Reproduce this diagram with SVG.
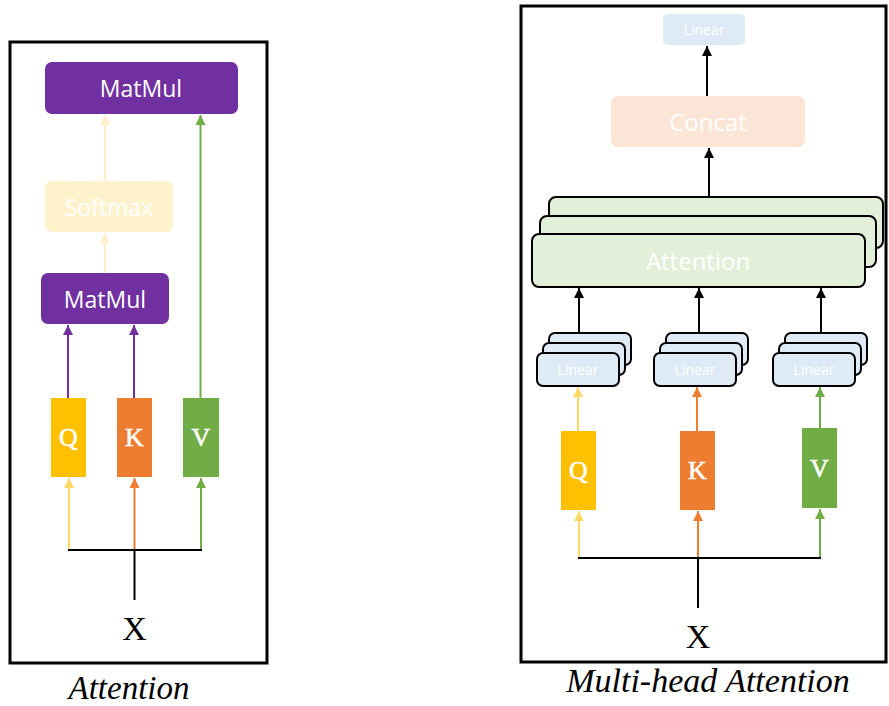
<svg xmlns="http://www.w3.org/2000/svg" width="889" height="706" viewBox="0 0 889 706">
  <defs>
    <style>
      .frame { fill: none; stroke: #000; stroke-width: 3; }
      .lbl { font-family: "Open Sans", "Noto Sans", sans-serif; fill: #fff; text-anchor: middle; }
      .ser { font-family: "Liberation Serif", "DejaVu Serif", serif; text-anchor: middle; }
      .qkv { font-family: "Liberation Serif", "DejaVu Serif", serif; text-anchor: middle; fill: #fff; stroke: #fff; stroke-width: 0.6; font-size: 26px; }
      .cap { font-family: "Liberation Serif", "DejaVu Serif", serif; font-style: italic; text-anchor: middle; fill: #000; }
      .stk { stroke: #000; stroke-width: 2; }
      .ln { fill: none; stroke-width: 2; }
    </style>
    <marker id="ah-black" viewBox="0 0 10 10" refX="10" refY="5" markerWidth="10" markerHeight="10" markerUnits="userSpaceOnUse" orient="auto">
      <path d="M0,0 L10,5 L0,10 z" fill="#000"/>
    </marker>
    <marker id="ah-purple" viewBox="0 0 10 10" refX="10" refY="5" markerWidth="10" markerHeight="10" markerUnits="userSpaceOnUse" orient="auto">
      <path d="M0,0 L10,5 L0,10 z" fill="#7030A0"/>
    </marker>
    <marker id="ah-green" viewBox="0 0 10 10" refX="10" refY="5" markerWidth="10" markerHeight="10" markerUnits="userSpaceOnUse" orient="auto">
      <path d="M0,0 L10,5 L0,10 z" fill="#70AD47"/>
    </marker>
    <marker id="ah-orange" viewBox="0 0 10 10" refX="10" refY="5" markerWidth="10" markerHeight="10" markerUnits="userSpaceOnUse" orient="auto">
      <path d="M0,0 L10,5 L0,10 z" fill="#ED7D31"/>
    </marker>
    <marker id="ah-yellow" viewBox="0 0 10 10" refX="10" refY="5" markerWidth="10" markerHeight="10" markerUnits="userSpaceOnUse" orient="auto">
      <path d="M0,0 L10,5 L0,10 z" fill="#FFD966"/>
    </marker>
    <marker id="ah-cream" viewBox="0 0 10 10" refX="10" refY="5" markerWidth="10" markerHeight="10" markerUnits="userSpaceOnUse" orient="auto">
      <path d="M0,0 L10,5 L0,10 z" fill="#FFEFC9"/>
    </marker>
  </defs>

  <rect width="889" height="706" fill="#fff"/>

  <!-- ===== Single-head attention ===== -->
  <rect class="frame" x="10" y="42" width="257" height="621"/>

  <g id="matmul-top">
    <rect x="45" y="62" width="193" height="52" rx="7" fill="#7030A0"/>
    <text class="lbl" x="141" y="96.5" font-size="23">MatMul</text>
  </g>
  <g id="softmax">
    <rect x="45" y="181" width="128" height="51" rx="7" fill="#FFF2CC"/>
    <text class="lbl" x="109" y="215.5" font-size="23">Softmax</text>
  </g>
  <g id="matmul-low">
    <rect x="41" y="273" width="128" height="51" rx="7" fill="#7030A0"/>
    <text class="lbl" x="105" y="307.5" font-size="23">MatMul</text>
  </g>
  <g id="q1">
    <rect x="51" y="398" width="35" height="79" fill="#FFC000"/>
    <text class="qkv" x="68.5" y="446">Q</text>
  </g>
  <g id="k1">
    <rect x="117" y="398" width="35" height="79" fill="#ED7D31"/>
    <text class="qkv" x="134.5" y="446">K</text>
  </g>
  <g id="v1">
    <rect x="183" y="398" width="36" height="79" fill="#70AD47"/>
    <text class="qkv" x="201" y="446">V</text>
  </g>
  <g id="x1">
    <text class="ser" x="134.5" y="640" font-size="34" fill="#000">X</text>
  </g>
  <text class="cap" x="129" y="699" font-size="33">Attention</text>

  <g id="connectors-left">
    <line class="ln" x1="105" y1="181" x2="105" y2="115" stroke="#FFEFC9" marker-end="url(#ah-cream)"/>
    <line class="ln" x1="105" y1="273" x2="105" y2="233" stroke="#FFEFC9" marker-end="url(#ah-cream)"/>
    <line class="ln" x1="200.5" y1="398" x2="200.5" y2="115" stroke="#70AD47" marker-end="url(#ah-green)"/>
    <line class="ln" x1="68" y1="398" x2="68" y2="325" stroke="#7030A0" marker-end="url(#ah-purple)"/>
    <line class="ln" x1="134" y1="398" x2="134" y2="325" stroke="#7030A0" marker-end="url(#ah-purple)"/>
    <line class="ln" x1="69" y1="550" x2="69" y2="478" stroke="#FFD966" marker-end="url(#ah-yellow)"/>
    <line class="ln" x1="134.5" y1="550" x2="134.5" y2="478" stroke="#ED7D31" marker-end="url(#ah-orange)"/>
    <line class="ln" x1="201" y1="550" x2="201" y2="478" stroke="#70AD47" marker-end="url(#ah-green)"/>
    <path class="ln" d="M68,550 H202 M134.5,550 V600" stroke="#000" stroke-width="2.5"/>
  </g>

  <!-- ===== Multi-head attention ===== -->
  <rect class="frame" x="521" y="6" width="365" height="656"/>

  <g id="linear-out">
    <rect x="663" y="14" width="82" height="31" rx="5" fill="#DEEBF7"/>
    <text class="lbl" x="704" y="35" font-size="14">Linear</text>
  </g>
  <g id="concat">
    <rect x="611" y="96" width="194" height="51" rx="7" fill="#FBE5D6"/>
    <text class="lbl" x="708" y="130.5" font-size="24">Concat</text>
  </g>
  <g id="attention-heads">
    <rect class="stk" x="549" y="197" width="334" height="51" rx="7" fill="#E2F0D9"/>
    <rect class="stk" x="540" y="216" width="336" height="51" rx="7" fill="#E2F0D9"/>
    <rect class="stk" x="532" y="234" width="333" height="53" rx="7" fill="#E2F0D9"/>
    <text class="lbl" x="698" y="270" font-size="24">Attention</text>
  </g>
  <g id="linear-q">
    <rect class="stk" x="549" y="333" width="82" height="32" rx="6" fill="#DEEBF7"/>
    <rect class="stk" x="543" y="343" width="82" height="32" rx="6" fill="#DEEBF7"/>
    <rect class="stk" x="537" y="353" width="82" height="33" rx="6" fill="#DEEBF7"/>
    <text class="lbl" x="578" y="375" font-size="14">Linear</text>
  </g>
  <g id="linear-k">
    <rect class="stk" x="666" y="333" width="82" height="32" rx="6" fill="#DEEBF7"/>
    <rect class="stk" x="660" y="343" width="82" height="32" rx="6" fill="#DEEBF7"/>
    <rect class="stk" x="654" y="353" width="82" height="33" rx="6" fill="#DEEBF7"/>
    <text class="lbl" x="695" y="375" font-size="14">Linear</text>
  </g>
  <g id="linear-v">
    <rect class="stk" x="785" y="333" width="82" height="32" rx="6" fill="#DEEBF7"/>
    <rect class="stk" x="779" y="343" width="82" height="32" rx="6" fill="#DEEBF7"/>
    <rect class="stk" x="773" y="353" width="82" height="33" rx="6" fill="#DEEBF7"/>
    <text class="lbl" x="814" y="375" font-size="14">Linear</text>
  </g>
  <g id="q2">
    <rect x="561" y="431" width="35" height="79" fill="#FFC000"/>
    <text class="qkv" x="578.5" y="479">Q</text>
  </g>
  <g id="k2">
    <rect x="680" y="431" width="35" height="79" fill="#ED7D31"/>
    <text class="qkv" x="697.5" y="479">K</text>
  </g>
  <g id="v2">
    <rect x="802" y="428" width="35" height="80" fill="#70AD47"/>
    <text class="qkv" x="819.5" y="477">V</text>
  </g>
  <g id="x2">
    <text class="ser" x="698" y="648" font-size="34" fill="#000">X</text>
  </g>
  <text class="cap" x="708" y="692" font-size="34">Multi-head Attention</text>

  <g id="connectors-right">
    <line class="ln" x1="707" y1="96" x2="707" y2="46" stroke="#000" stroke-width="2.5" marker-end="url(#ah-black)"/>
    <line class="ln" x1="709" y1="197" x2="709" y2="148" stroke="#000" stroke-width="2.5" marker-end="url(#ah-black)"/>
    <line class="ln" x1="579" y1="333" x2="579" y2="288" stroke="#000" stroke-width="2.5" marker-end="url(#ah-black)"/>
    <line class="ln" x1="699" y1="333" x2="699" y2="288" stroke="#000" stroke-width="2.5" marker-end="url(#ah-black)"/>
    <line class="ln" x1="821" y1="333" x2="821" y2="288" stroke="#000" stroke-width="2.5" marker-end="url(#ah-black)"/>
    <line class="ln" x1="578" y1="431" x2="578" y2="387" stroke="#FFD966" marker-end="url(#ah-yellow)"/>
    <line class="ln" x1="697" y1="431" x2="697" y2="387" stroke="#ED7D31" marker-end="url(#ah-orange)"/>
    <line class="ln" x1="820" y1="428" x2="820" y2="387" stroke="#70AD47" marker-end="url(#ah-green)"/>
    <line class="ln" x1="579" y1="558" x2="579" y2="511" stroke="#FFD966" marker-end="url(#ah-yellow)"/>
    <line class="ln" x1="698" y1="558" x2="698" y2="511" stroke="#ED7D31" marker-end="url(#ah-orange)"/>
    <line class="ln" x1="820" y1="558" x2="820" y2="509" stroke="#70AD47" marker-end="url(#ah-green)"/>
    <path class="ln" d="M578,558 H821 M698,558 V608" stroke="#000" stroke-width="2.5"/>
  </g>
</svg>
